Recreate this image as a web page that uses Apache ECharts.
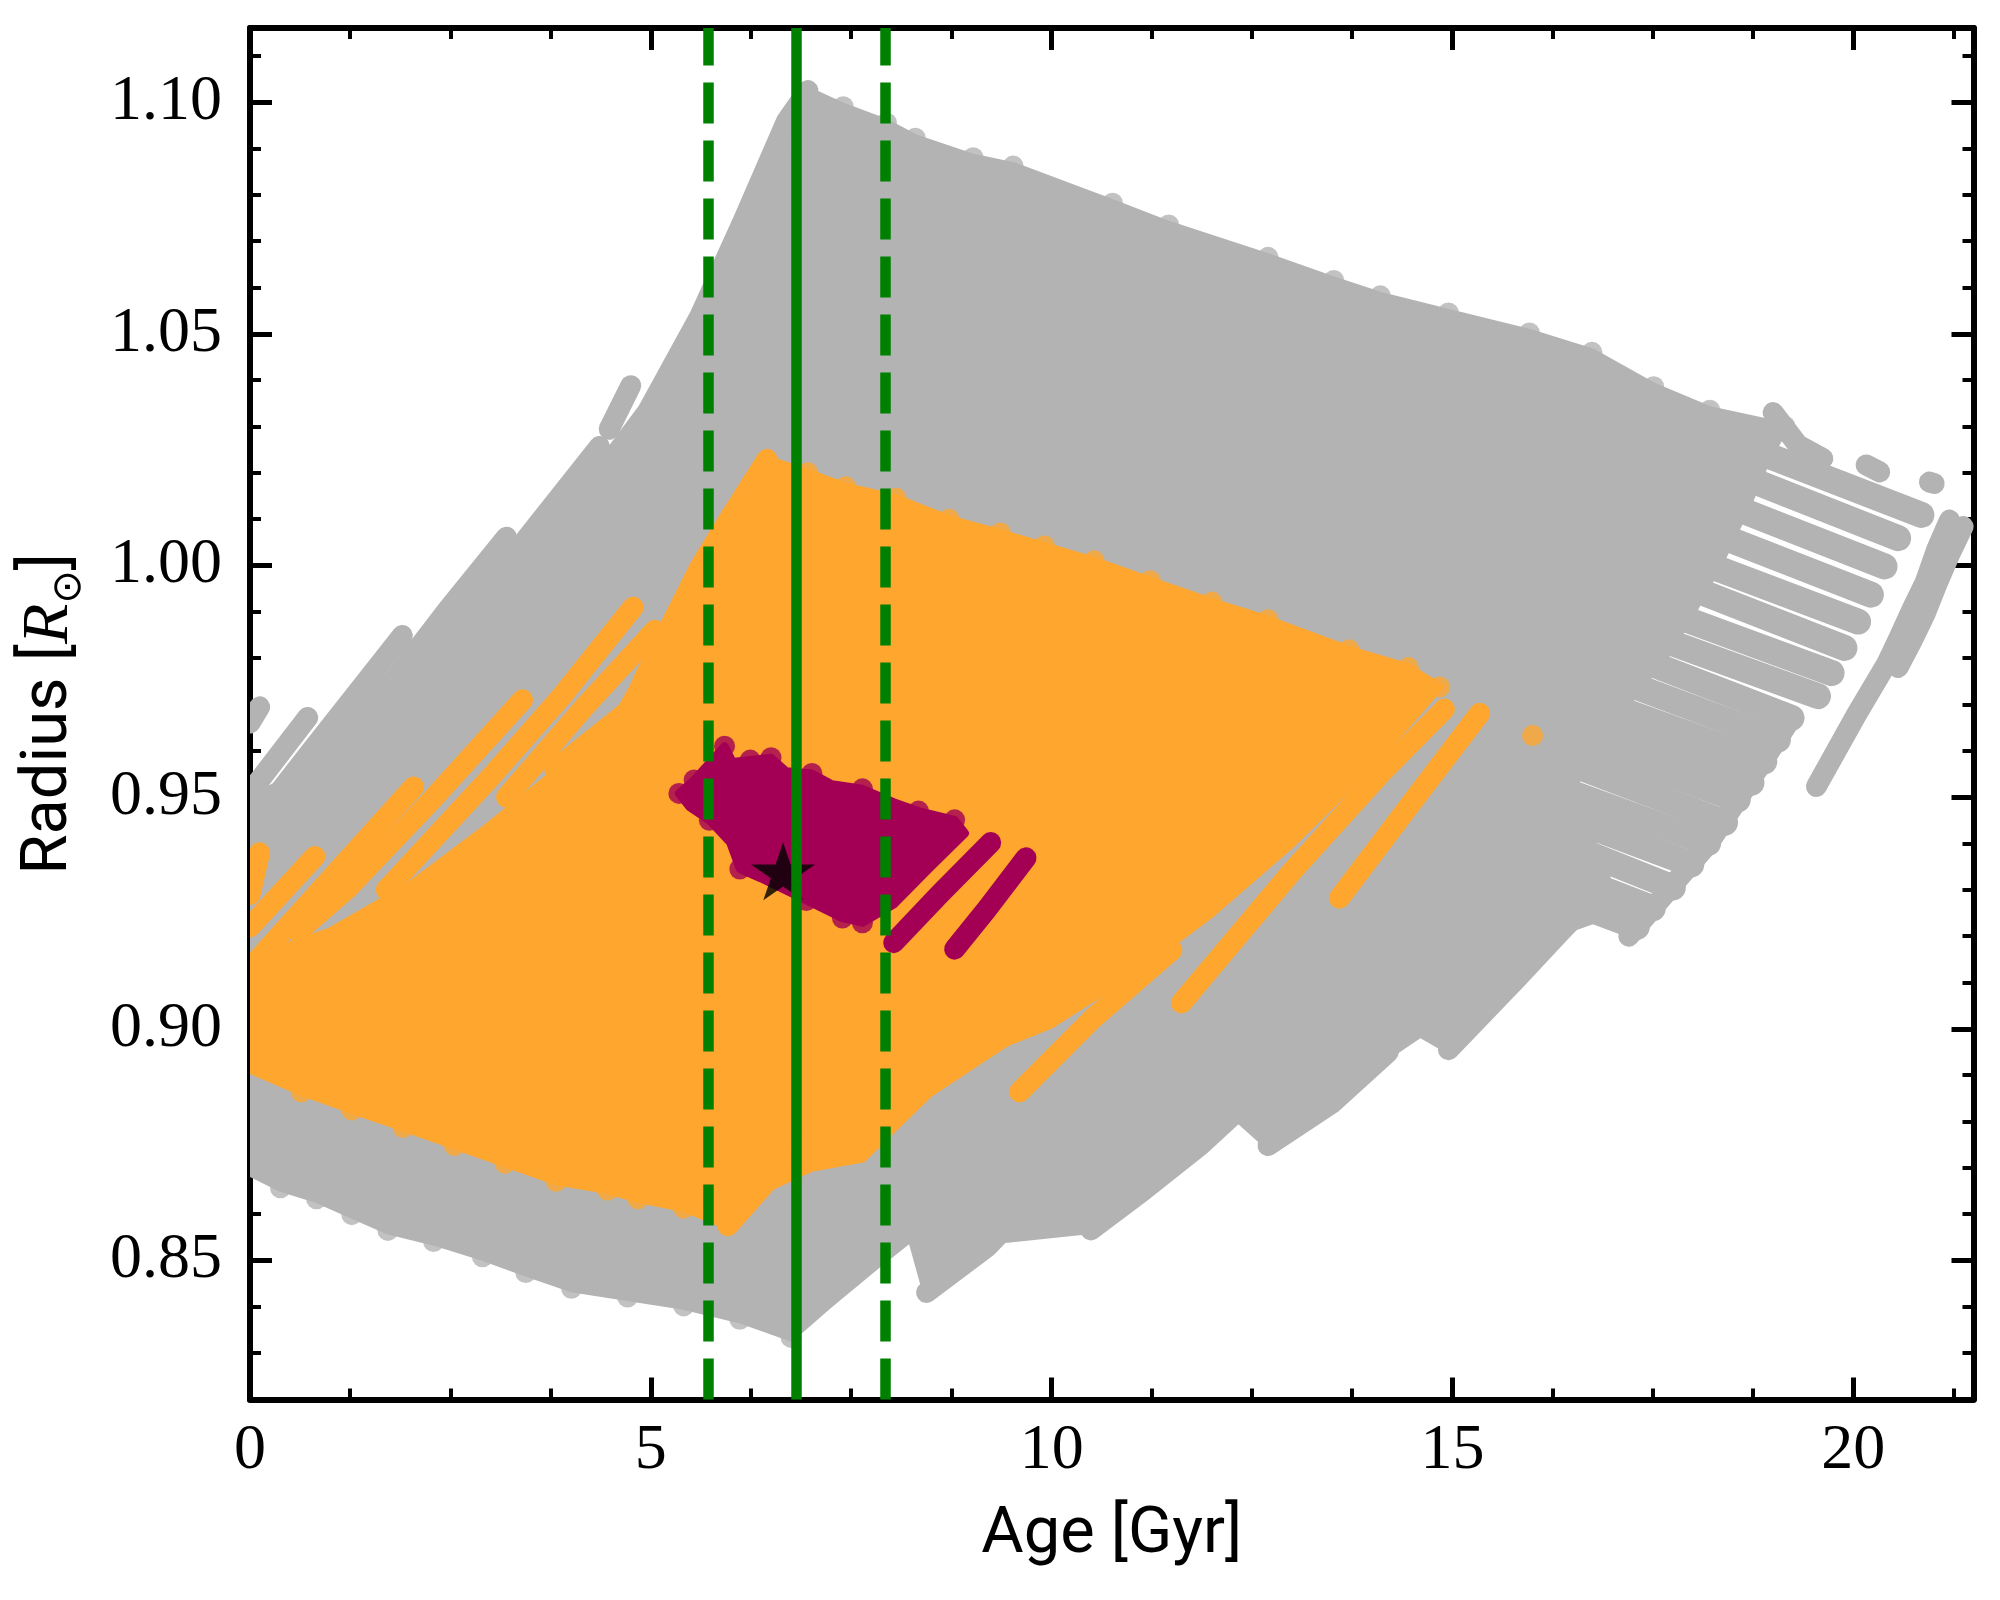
<!DOCTYPE html>
<html>
<head>
<meta charset="utf-8">
<script src="https://cdn.jsdelivr.net/npm/echarts@6.0.0/dist/echarts.min.js"></script>
<style>
html, body { margin: 0; padding: 0; background: #fff; }
#chart { width: 2000px; height: 1600px; }
</style>
</head>
<body>
<div id="chart"></div>
<script>
// ---- data: [age Gyr, radius Rsun] ----
var xMajorTicks = [0, 5, 10, 15, 20];
var xMinorTicks = [1.25, 2.5, 3.75, 6.25, 7.5, 8.75, 11.25, 12.5, 13.75, 16.25, 17.5, 18.75, 21.25];
var yMajorTicks = [0.85, 0.90, 0.95, 1.00, 1.05, 1.10];
var yMinorTicks = [0.83, 0.84, 0.86, 0.87, 0.88, 0.89, 0.91, 0.92, 0.93, 0.94, 0.96, 0.97,
                   0.98, 0.99, 1.01, 1.02, 1.03, 1.04, 1.06, 1.07, 1.08, 1.09, 1.11];

// all models (grey): dense body outline
var greyBody = [[
    [6.96, 1.1025], [7.40, 1.0990], [7.94, 1.0955], [8.30, 1.0922], [9.02, 1.0880], [9.52, 1.0862],
    [10.76, 1.0782], [11.46, 1.0735], [12.70, 1.0665], [13.52, 1.0615], [14.10, 1.0582], [14.95, 1.0545],
    [15.96, 1.0502], [16.74, 1.0460], [17.51, 1.0386], [18.21, 1.0335], [19.15, 1.0300],
    [18.90, 1.0220], [18.69, 1.0134], [18.35, 1.0012], [18.02, 0.9908], [17.68, 0.9811], [17.27, 0.9725],
    [16.94, 0.9638], [16.52, 0.9567], [16.60, 0.9450], [16.90, 0.9350], [17.00, 0.9250], [16.35, 0.9210],
    [15.81, 0.9110], [14.95, 0.8955], [14.60, 0.8990], [14.00, 0.8920], [12.70, 0.8748], [12.30, 0.8810],
    [11.85, 0.8748], [10.49, 0.8566], [9.36, 0.8545], [8.44, 0.8431], [8.25, 0.8550], [7.80, 0.8488],
    [7.20, 0.8402], [6.75, 0.8334], [6.11, 0.8373], [5.41, 0.8402], [4.71, 0.8421], [4.01, 0.8440],
    [3.44, 0.8474], [2.90, 0.8508], [2.29, 0.8541], [1.72, 0.8565], [1.27, 0.8599], [0.83, 0.8633],
    [0.38, 0.8657], [0.00, 0.8690], [0.00, 0.9500], [1.00, 0.9570], [2.00, 0.9750], [3.00, 0.9960],
    [3.90, 1.0120], [4.66, 1.0257], [5.20, 1.0406], [5.61, 1.0537], [6.15, 1.0743], [6.69, 1.0958]
]];
// single dots standing out of the grey top and bottom edges
var greyEdgeDots = [
    [7.40, 1.0990], [7.94, 1.0955], [8.30, 1.0922], [9.02, 1.0880], [9.52, 1.0862], [10.76, 1.0782],
    [11.46, 1.0735], [12.70, 1.0665], [13.52, 1.0615], [14.10, 1.0582], [14.95, 1.0545], [15.96, 1.0502],
    [16.74, 1.0460], [17.51, 1.0386], [18.21, 1.0335], [19.15, 1.0300],
    [6.75, 0.8334], [6.11, 0.8373], [5.41, 0.8402], [4.71, 0.8421], [4.01, 0.8440], [3.44, 0.8474],
    [2.90, 0.8508], [2.29, 0.8541], [1.72, 0.8565], [1.27, 0.8599], [0.83, 0.8633], [0.38, 0.8657]
];
// grey tracks seen as separate rows of dots
var greyTracks = [
    [[0.00, 0.9510], [0.72, 0.9672]],
    [[0.00, 0.9660], [0.12, 0.9695]],
    [[0.00, 0.9430], [0.72, 0.9590], [1.90, 0.9849]],
    [[0.50, 0.9510], [1.17, 0.9618], [1.88, 0.9772], [2.46, 0.9903], [3.20, 1.0061]],
    [[1.50, 0.9700], [3.00, 0.9960], [4.36, 1.0257]],
    [[4.48, 1.0294], [4.75, 1.0388]],
    [[2.80, 0.9900], [4.00, 1.0110], [4.96, 1.0332], [5.61, 1.0537], [6.15, 1.0743], [6.69, 1.0958], [6.96, 1.1025]],
    [[8.44, 0.8431], [9.20, 0.8530], [10.00, 0.8675]],
    [[10.49, 0.8566], [11.15, 0.8652], [11.85, 0.8748], [12.30, 0.8820]],
    [[12.70, 0.8748], [13.50, 0.8840], [14.20, 0.8950]],
    [[14.95, 0.8955], [15.81, 0.9110], [16.35, 0.9210], [16.80, 0.9290]],
    [[17.20, 0.9200], [18.20, 0.9401], [19.23, 0.9671]],
    [[19.54, 0.9523], [20.04, 0.9678], [20.42, 0.9789], [20.58, 0.9847], [20.73, 0.9904], [20.90, 0.9965], [21.04, 1.0034], [21.20, 1.0098]],
    [[20.56, 0.9780], [20.73, 0.9836], [20.90, 0.9897], [21.04, 0.9958], [21.20, 1.0023], [21.37, 1.0084]],
    [[19.00, 1.0330], [19.31, 1.0260], [19.62, 1.0231]],
    [[20.16, 1.0217], [20.33, 1.0202]],
    [[20.95, 1.0180], [21.01, 1.0177]]
];
// grey rows running down to the right on the old side
var greyStreaks = [
    [[18.60, 1.0260], [20.85, 1.0109]],
    [[18.50, 1.0200], [20.56, 1.0059]],
    [[18.30, 1.0140], [20.39, 0.9998]],
    [[18.10, 1.0080], [20.22, 0.9937]],
    [[17.90, 1.0020], [20.06, 0.9879]],
    [[17.70, 0.9970], [19.89, 0.9822]],
    [[17.50, 0.9910], [19.73, 0.9768]],
    [[17.30, 0.9860], [19.56, 0.9718]],
    [[17.00, 0.9820], [19.23, 0.9671]],
    [[16.80, 0.9770], [19.06, 0.9624]],
    [[16.60, 0.9720], [18.89, 0.9577]],
    [[16.40, 0.9680], [18.73, 0.9531]],
    [[16.30, 0.9640], [18.56, 0.9495]],
    [[16.20, 0.9590], [18.40, 0.9445]],
    [[16.00, 0.9540], [18.19, 0.9401]],
    [[15.90, 0.9490], [17.98, 0.9355]],
    [[15.80, 0.9440], [17.75, 0.9305]],
    [[15.70, 0.9380], [17.50, 0.9260]],
    [[15.60, 0.9330], [17.30, 0.9220]]
];

// models within the first constraint (orange)
var orangeBody = [[
    [6.43, 1.0230], [6.96, 1.0200], [7.43, 1.0170], [8.06, 1.0145], [8.72, 1.0100], [9.36, 1.0070],
    [9.91, 1.0042], [10.53, 1.0010], [11.23, 0.9967], [12.00, 0.9921], [12.70, 0.9883], [13.71, 0.9818],
    [14.45, 0.9780], [14.84, 0.9738], [14.00, 0.9570], [13.00, 0.9400], [12.00, 0.9250], [11.00, 0.9120],
    [10.00, 0.9010], [9.43, 0.8970], [8.47, 0.8860], [7.64, 0.8720], [7.00, 0.8700], [6.50, 0.8660],
    [5.96, 0.8575], [5.41, 0.8613], [4.84, 0.8633], [4.46, 0.8652], [3.82, 0.8671], [3.18, 0.8710],
    [2.55, 0.8748], [1.91, 0.8787], [1.27, 0.8825], [0.64, 0.8864], [0.00, 0.8912], [0.00, 0.9150],
    [1.00, 0.9210], [2.00, 0.9310], [3.00, 0.9440], [4.00, 0.9580], [4.60, 0.9680], [5.14, 0.9850],
    [5.61, 0.9960], [6.00, 1.0070]
]];
var orangeEdgeDots = [
    [6.96, 1.0200], [7.43, 1.0170], [8.06, 1.0145], [8.72, 1.0100], [9.36, 1.0070], [9.91, 1.0042],
    [10.53, 1.0010], [11.23, 0.9967], [12.00, 0.9921], [12.70, 0.9883], [13.71, 0.9818], [14.45, 0.9780],
    [14.84, 0.9738], [16.00, 0.9633],
    [5.41, 0.8613], [4.84, 0.8633], [4.46, 0.8652], [3.82, 0.8671], [3.18, 0.8710], [2.55, 0.8748],
    [1.91, 0.8787], [1.27, 0.8825], [0.64, 0.8864]
];
var orangeTracks = [
    [[4.90, 0.9750], [5.61, 0.9995], [5.97, 1.0098], [6.45, 1.0229]],
    [[3.80, 0.9560], [4.60, 0.9670], [5.30, 0.9770]],
    [[3.20, 0.9500], [4.20, 0.9700], [5.05, 0.9860]],
    [[1.70, 0.9300], [2.99, 0.9541], [3.89, 0.9718], [4.78, 0.9910]],
    [[0.60, 0.9210], [1.21, 0.9302], [2.30, 0.9500], [3.40, 0.9710]],
    [[0.00, 0.9130], [0.37, 0.9202], [2.04, 0.9522]],
    [[0.00, 0.9220], [0.81, 0.9372]],
    [[0.00, 0.9290], [0.12, 0.9380]],
    [[13.59, 0.9282], [14.50, 0.9490], [15.34, 0.9681]],
    [[11.62, 0.9056], [13.00, 0.9340], [14.10, 0.9550], [14.90, 0.9690]],
    [[9.60, 0.8864], [10.50, 0.9020], [11.50, 0.9170]],
    [[5.96, 0.8575], [6.60, 0.8700], [7.20, 0.8787]]
];

// models within all constraints (purple)
var purpleBody = [[
    [5.35, 0.9508], [5.54, 0.9537], [5.92, 0.9610], [6.02, 0.9576], [6.24, 0.9580], [6.50, 0.9585],
    [6.69, 0.9556], [7.01, 0.9551], [7.26, 0.9528], [7.64, 0.9518], [8.03, 0.9489], [8.34, 0.9470],
    [8.79, 0.9451], [8.92, 0.9422], [8.47, 0.9345], [8.03, 0.9268], [7.64, 0.9229], [7.39, 0.9239],
    [6.94, 0.9277], [6.37, 0.9325], [6.11, 0.9345], [5.99, 0.9402], [5.73, 0.9450], [5.48, 0.9479]
]];
var purpleEdgeDots = [
    [5.35, 0.9508], [5.54, 0.9537], [5.92, 0.9610], [6.24, 0.9580], [6.50, 0.9585], [7.01, 0.9551],
    [7.64, 0.9518], [8.34, 0.9470], [8.79, 0.9451], [7.64, 0.9229], [7.39, 0.9239], [6.94, 0.9277],
    [6.11, 0.9345], [5.73, 0.9450]
];
var purpleTracks = [
    [[8.03, 0.9186], [8.60, 0.9290], [9.24, 0.9402]],
    [[8.79, 0.9172], [9.20, 0.9260], [9.68, 0.9369]]
];

var starPoint = [[6.65, 0.934]];
var ageLow = 5.72, ageBest = 6.82, ageHigh = 7.92;

// ---- chart ----
var GREY = '#b3b3b3', ORANGE = '#fea62e', PURPLE = '#a30055', GREEN = '#008000';
var DOT = 21;

var chart = echarts.init(document.getElementById('chart'), null, {renderer: 'canvas'});

function areaSeries(polys, color) {
    return {
        type: 'custom', xAxisIndex: 0, yAxisIndex: 0, clip: true, silent: true,
        data: polys.map(function(p, i) { return [p[0][0], p[0][1], i]; }),
        renderItem: function(params, api) {
            var pts = polys[params.dataIndex].map(function(p) { return api.coord(p); });
            return {
                type: 'polygon', shape: {points: pts},
                style: {fill: color, stroke: color, lineWidth: 8, lineJoin: 'round'}
            };
        }
    };
}

function trackSeries(tracks, color, width) {
    return {
        type: 'custom', xAxisIndex: 0, yAxisIndex: 0, clip: true, silent: true,
        data: tracks.map(function(t, i) { return [t[0][0], t[0][1], i]; }),
        renderItem: function(params, api) {
            var pts = tracks[params.dataIndex].map(function(p) { return api.coord(p); });
            return {
                type: 'polyline', shape: {points: pts},
                style: {fill: null, stroke: color, lineWidth: width, lineCap: 'round', lineJoin: 'round'}
            };
        }
    };
}

function dotSeries(points, color) {
    return {
        type: 'scatter', xAxisIndex: 0, yAxisIndex: 0, silent: true, clip: true,
        symbol: 'circle', symbolSize: DOT, itemStyle: {color: color},
        data: points
    };
}

function xAxis(grid, pos, ticks, len, w, main) {
    return {
        type: 'value', gridIndex: grid, position: pos, min: 0, max: 21.5,
        axisLine: {show: main, onZero: false, lineStyle: {color: '#000', width: 6}},
        axisTick: {show: true, inside: true, length: len, lineStyle: {color: '#000', width: w}, customValues: ticks},
        axisLabel: {show: main && pos === 'bottom', customValues: xMajorTicks, margin: 20,
                    fontFamily: 'Liberation Serif', fontSize: 64, color: '#000'},
        splitLine: {show: false}
    };
}
function yAxis(grid, pos, ticks, len, w, main) {
    return {
        type: 'value', gridIndex: grid, position: pos, min: 0.82, max: 1.116,
        axisLine: {show: main, onZero: false, lineStyle: {color: '#000', width: 6}},
        axisTick: {show: true, inside: true, length: len, lineStyle: {color: '#000', width: w}, customValues: ticks},
        axisLabel: {show: main && pos === 'left', customValues: yMajorTicks, margin: 28,
                    fontFamily: 'Liberation Serif', fontSize: 64, color: '#000',
                    formatter: function(v) { return v.toFixed(2); }},
        splitLine: {show: false}
    };
}

var xAxes = [
    xAxis(0, 'bottom', xMajorTicks, 22, 5, true),
    xAxis(0, 'top', xMajorTicks, 22, 5, true),
    xAxis(1, 'bottom', xMinorTicks, 11, 4, false),
    xAxis(1, 'top', xMinorTicks, 11, 4, false)
];
xAxes[0].name = 'Age [Gyr]';
xAxes[0].nameLocation = 'middle';
xAxes[0].nameGap = 104;
xAxes[0].nameTextStyle = {fontFamily: 'Roboto', fontSize: 65, color: '#000'};

var yAxes = [
    yAxis(0, 'left', yMajorTicks, 22, 5, true),
    yAxis(0, 'right', yMajorTicks, 22, 5, true),
    yAxis(1, 'left', yMinorTicks, 11, 4, false),
    yAxis(1, 'right', yMinorTicks, 11, 4, false)
];
yAxes[0].name = '{t|Radius [}{it|R}{sub|\u2299}{t|]}';
yAxes[0].nameLocation = 'middle';
yAxes[0].nameRotate = 90;
yAxes[0].nameGap = 160;
yAxes[0].nameTextStyle = {
    color: '#000',
    rich: {
        t: {fontFamily: 'Roboto', fontSize: 65, lineHeight: 80, color: '#000'},
        it: {fontFamily: 'Liberation Serif', fontStyle: 'italic', fontSize: 66, lineHeight: 80, color: '#000'},
        sub: {fontFamily: 'DejaVu Sans', fontSize: 40, lineHeight: 44, verticalAlign: 'bottom', color: '#000'}
    }
};

var option = {
    animation: false,
    backgroundColor: '#fff',
    grid: [
        {left: 250, top: 28, width: 1723.5, height: 1371.5},
        {left: 250, top: 28, width: 1723.5, height: 1371.5}
    ],
    xAxis: xAxes,
    yAxis: yAxes,
    series: [
        areaSeries(greyBody, GREY),
        dotSeries(greyEdgeDots, GREY),
        trackSeries(greyTracks, GREY, DOT),
        trackSeries(greyStreaks, GREY, 26),
        areaSeries(orangeBody, ORANGE),
        dotSeries(orangeEdgeDots, ORANGE),
        trackSeries(orangeTracks, ORANGE, DOT),
        areaSeries(purpleBody, PURPLE),
        dotSeries(purpleEdgeDots, PURPLE),
        trackSeries(purpleTracks, PURPLE, DOT),
        {
            type: 'scatter', xAxisIndex: 0, yAxisIndex: 0, silent: true,
            symbol: 'path://M50,0 L61.23,34.55 L97.55,34.55 L68.17,55.9 L79.39,90.45 L50,69.1 L20.61,90.45 L31.83,55.9 L2.45,34.55 L38.77,34.55 Z',
            symbolKeepAspect: true, symbolSize: [64, 61],
            itemStyle: {color: '#000'},
            data: starPoint,
            markLine: {
                silent: true, symbol: ['none', 'none'], label: {show: false}, z: 10,
                lineStyle: {color: GREEN, width: 10.5, type: 'solid'},
                emphasis: {disabled: true},
                data: [
                    {xAxis: ageLow, lineStyle: {color: GREEN, width: 10.5, type: [41, 17]}},
                    {xAxis: ageBest, lineStyle: {color: GREEN, width: 10.5, type: 'solid'}},
                    {xAxis: ageHigh, lineStyle: {color: GREEN, width: 10.5, type: [41, 17]}}
                ]
            }
        }
    ]
};
chart.setOption(option);
window.addEventListener('resize', function() { chart.resize(); });
</script>
</body>
</html>
